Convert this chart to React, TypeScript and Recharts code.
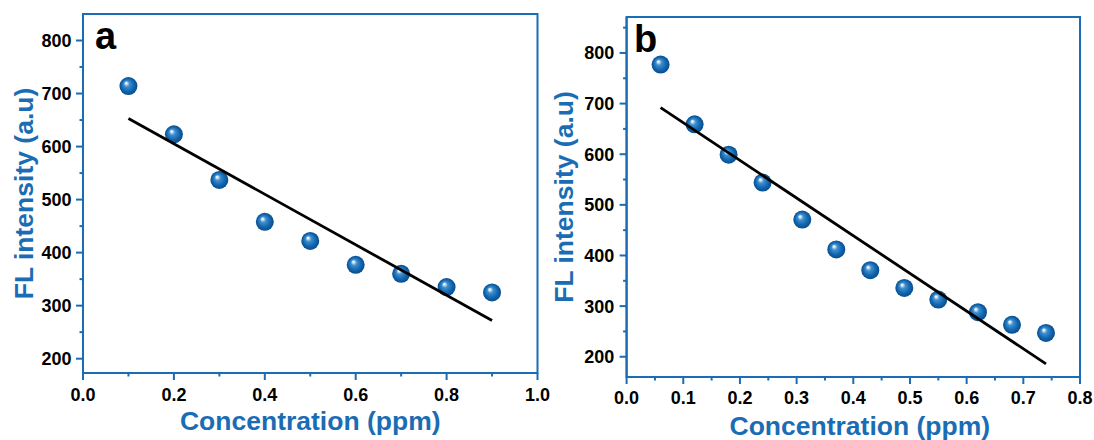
import React from 'react'
import { ScatterChart, Scatter, XAxis, YAxis, ReferenceArea, Label } from 'recharts'

const BLUE = '#1a6db4'
const FONT = '"Liberation Sans", Arial, sans-serif'

// panel a
const concA = [0.1, 0.2, 0.3, 0.4, 0.5, 0.6, 0.7, 0.8, 0.9]
const flA = [714, 623, 537, 458, 422, 377, 360, 335, 325]
const fitConcA = [0.1, 0.9]
const fitFlA = [653, 272]
const majorXA = [0, 0.2, 0.4, 0.6, 0.8, 1.0]
const minorXA = [0.1, 0.3, 0.5, 0.7, 0.9]
const majorYA = [200, 300, 400, 500, 600, 700, 800]
const minorYA = [250, 350, 450, 550, 650, 750]

// panel b
const concB = [0.06, 0.12, 0.18, 0.24, 0.31, 0.37, 0.43, 0.49, 0.55, 0.62, 0.68, 0.74]
const flB = [777, 659, 599, 544, 471, 412, 371, 336, 313, 288, 263, 247]
const fitConcB = [0.06, 0.74]
const fitFlB = [692, 186]
const majorXB = [0, 0.1, 0.2, 0.3, 0.4, 0.5, 0.6, 0.7, 0.8]
const minorXB = [0.05, 0.15, 0.25, 0.35, 0.45, 0.55, 0.65, 0.75]
const majorYB = [200, 300, 400, 500, 600, 700, 800]
const minorYB = [250, 350, 450, 550, 650, 750, 850]

const toPoints = (xs: number[], ys: number[]) => xs.map((x, i) => ({ x, y: ys[i] }))

const Ball = (props: any) => {
  const { cx, cy } = props
  if (cx == null || cy == null) return <g />
  return (
    <g>
      <defs>
        <radialGradient id="ballGrad" cx="0.5" cy="0.5" r="0.5" fx="0.36" fy="0.32">
          <stop offset="0" stopColor="#ffffff" />
          <stop offset="0.1" stopColor="#dcebf7" />
          <stop offset="0.32" stopColor="#3f8fcf" />
          <stop offset="0.7" stopColor="#1166b0" />
          <stop offset="1" stopColor="#094c8b" />
        </radialGradient>
      </defs>
      <circle cx={cx} cy={cy} r={9} fill="url(#ballGrad)" />
    </g>
  )
}

// tickSize is 0 on the axes, so the text sits at axis + tickMargin
const XTick = (props: any) => {
  const { x, y, payload, majors, tm } = props
  const isMajor = majors.includes(payload.value)
  const axisY = y - tm
  return (
    <g>
      <line x1={x} x2={x} y1={axisY} y2={axisY + (isMajor ? 7 : 3.5)} stroke={BLUE} strokeWidth={2} />
      {isMajor && (
        <text x={x} y={y} dy="0.71em" textAnchor="middle" fontSize={18} fontWeight="bold" fontFamily={FONT} fill="#000">
          {payload.value.toFixed(1)}
        </text>
      )}
    </g>
  )
}

const YTick = (props: any) => {
  const { x, y, payload, majors, tm } = props
  const isMajor = majors.includes(payload.value)
  const axisX = x + tm
  return (
    <g>
      <line x1={axisX - (isMajor ? 7 : 3.5)} x2={axisX} y1={y} y2={y} stroke={BLUE} strokeWidth={2} />
      {isMajor && (
        <text x={x} y={y} dy="0.355em" textAnchor="end" fontSize={18} fontWeight="bold" fontFamily={FONT} fill="#000">
          {payload.value}
        </text>
      )}
    </g>
  )
}

interface PanelProps {
  letter: string
  letterDx: number
  width: number
  margin: { top: number; right: number; left: number; bottom: number }
  yAxisWidth: number
  xAxisHeight: number
  xDomain: [number, number]
  yDomain: [number, number]
  majorX: number[]
  minorX: number[]
  majorY: number[]
  minorY: number[]
  points: { x: number; y: number }[]
  fit: { x: number; y: number }[]
  xTickMargin: number
  yTickMargin: number
  yLabelOffset: number
  xLabelOffset: number
  xLabelDx: number
}

function Panel(p: PanelProps) {
  return (
    <ScatterChart width={p.width} height={440} margin={p.margin}>
      <XAxis
        type="number"
        dataKey="x"
        domain={p.xDomain}
        allowDataOverflow
        ticks={[...p.majorX, ...p.minorX].sort((a, b) => a - b)}
        interval={0}
        height={p.xAxisHeight}
        tickSize={0}
        tickMargin={p.xTickMargin}
        tickLine={false}
        axisLine={{ stroke: BLUE, strokeWidth: 2 }}
        tick={(t: any) => <XTick {...t} majors={p.majorX} tm={p.xTickMargin} />}
      >
        <Label
          value="Concentration (ppm)"
          position="insideBottom"
          offset={p.xLabelOffset}
          dx={p.xLabelDx}
          fill={BLUE}
          fontSize={26.5}
          fontWeight="bold"
          fontFamily={FONT}
        />
      </XAxis>
      <YAxis
        type="number"
        dataKey="y"
        domain={p.yDomain}
        allowDataOverflow
        ticks={[...p.majorY, ...p.minorY].sort((a, b) => a - b)}
        interval={0}
        width={p.yAxisWidth}
        tickSize={0}
        tickMargin={p.yTickMargin}
        tickLine={false}
        axisLine={{ stroke: BLUE, strokeWidth: 2 }}
        tick={(t: any) => <YTick {...t} majors={p.majorY} tm={p.yTickMargin} />}
      >
        <Label
          value="FL intensity (a.u)"
          angle={-90}
          position="insideLeft"
          offset={p.yLabelOffset}
          fill={BLUE}
          fontSize={26.5}
          fontWeight="bold"
          fontFamily={FONT}
          style={{ textAnchor: 'middle' }}
        />
      </YAxis>
      <ReferenceArea
        x1={p.xDomain[0]}
        x2={p.xDomain[1]}
        y1={p.yDomain[0]}
        y2={p.yDomain[1]}
        fill="none"
        stroke={BLUE}
        strokeWidth={2}
      />
      <Scatter data={p.points} shape={Ball} isAnimationActive={false} />
      <Scatter
        data={p.fit}
        line={{ stroke: '#000', strokeWidth: 2.8 }}
        lineType="joint"
        shape={() => <g />}
        isAnimationActive={false}
      />
      <text
        x={p.margin.left + p.yAxisWidth + p.letterDx}
        y={p.margin.top + 35}
        fontSize={38}
        fontWeight="bold"
        fontFamily={FONT}
        fill="#000"
      >
        {p.letter}
      </text>
    </ScatterChart>
  )
}

export default function App() {
  return (
    <div style={{ position: 'absolute', left: 0, top: 0, width: 1094, height: 440, background: '#fff' }}>
      <div style={{ position: 'absolute', left: 540, top: 0 }}>
        <Panel
          letter="b"
          letterDx={7.5}
          width={554}
          margin={{ top: 17, right: 14, left: 0, bottom: 0 }}
          yAxisWidth={86.6}
          xAxisHeight={63}
          xDomain={[0, 0.8]}
          yDomain={[160, 871]}
          majorX={majorXB}
          minorX={minorXB}
          majorY={majorYB}
          minorY={minorYB}
          points={toPoints(concB, flB)}
          fit={toPoints(fitConcB, fitFlB)}
          xTickMargin={14}
          yTickMargin={12.4}
          yLabelOffset={24}
          xLabelOffset={5}
          xLabelDx={6.5}
        />
      </div>
      <div style={{ position: 'absolute', left: 0, top: 0 }}>
        <Panel
          letter="a"
          letterDx={12}
          width={560}
          margin={{ top: 14, right: 22.5, left: 0, bottom: 0 }}
          yAxisWidth={83}
          xAxisHeight={67}
          xDomain={[0, 1]}
          yDomain={[173, 850]}
          majorX={majorXA}
          minorX={minorXA}
          majorY={majorYA}
          minorY={minorYA}
          points={toPoints(concA, flA)}
          fit={toPoints(fitConcA, fitFlA)}
          xTickMargin={15}
          yTickMargin={11.5}
          yLabelOffset={23.5}
          xLabelOffset={10}
          xLabelDx={0}
        />
      </div>
    </div>
  )
}
